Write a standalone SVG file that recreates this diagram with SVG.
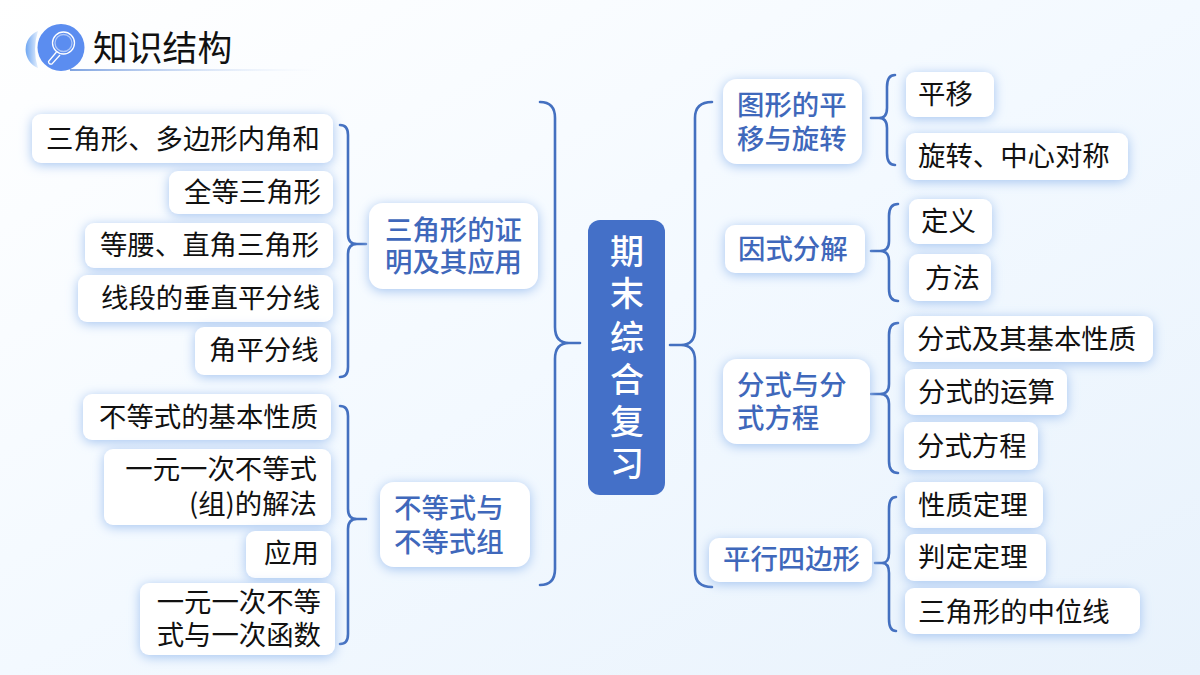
<svg xmlns="http://www.w3.org/2000/svg" width="1200" height="675" viewBox="0 0 1200 675">
<defs>
<linearGradient id="bg" x1="0" y1="0" x2="1" y2="1"><stop offset="0" stop-color="#ffffff"/><stop offset="0.5" stop-color="#f3f9ff"/><stop offset="1" stop-color="#e8f2fc"/></linearGradient>
<linearGradient id="ul" x1="0" y1="0" x2="1" y2="0"><stop offset="0" stop-color="#7fa3e0"/><stop offset="1" stop-color="#dfeafa" stop-opacity="0"/></linearGradient>
<linearGradient id="cres" x1="0" y1="0" x2="1" y2="0"><stop offset="0" stop-color="#6ea6f2"/><stop offset="1" stop-color="#e4effd"/></linearGradient>
<filter id="sh" x="-30%" y="-40%" width="160%" height="180%"><feDropShadow dx="0" dy="2" stdDeviation="6" flood-color="#a4c4f0" flood-opacity="1"/></filter>
</defs>
<style>
text{font-family:"Noto Sans CJK SC","Noto Sans",sans-serif}
.box{fill:#fff;filter:url(#sh)}
.leaf{font-size:27.4px;fill:#111}
.mid{font-size:27.4px;fill:#3f68bb;font-weight:500}
.c{fill:none;stroke:#4470c0;stroke-width:2.6;stroke-linecap:round;stroke-linejoin:round}
</style>
<rect width="1200" height="675" fill="url(#bg)"/>
<g id="title">
<path d="M38 31A20 20 0 0 0 38 68A60 60 0 0 1 38 31Z" fill="url(#cres)"/>
<rect x="70" y="69" width="250" height="2" fill="url(#ul)"/>
<circle cx="61" cy="47.500" r="23.500" fill="#5b8df0"/>
<g fill="none" stroke="#fff" stroke-width="1.300"><circle cx="63.500" cy="43" r="11"/><circle cx="63.500" cy="43" r="8.500" stroke-opacity="0.500"/><path d="M56.500 52L48.500 61.500Q48.500 64.500 52 64L60 55"/></g>
<text x="93" y="61" font-size="34.800" fill="#111">知识结构</text>
</g>
<g id="connectors">
<path class="c" d="M540 102Q555 102 555 118V327Q555 343 569 343H580H569Q555 343 555 359V569Q555 585 540 585"/>
<path class="c" d="M712 102Q695 102 695 118V329Q695 345 681 345H670H681Q695 345 695 361V571Q695 587 712 587"/>
<path class="c" d="M340 125Q348 125 348 135V234Q348 244 357 244H366H357Q348 244 348 254V367Q348 377 340 377"/>
<path class="c" d="M340 406Q348 406 348 416V509Q348 519 357 519H366H357Q348 519 348 529V634Q348 644 340 644"/>
<path class="c" d="M895 75Q887 75 887 87V108Q887 118 879 118H871H879Q887 118 887 128V153Q887 165 895 165"/>
<path class="c" d="M898 204Q889 204 889 216V241Q889 251 880 251H871H880Q889 251 889 261V289Q889 301 898 301"/>
<path class="c" d="M898 323Q889 323 889 335V384Q889 394 880 394H871H880Q889 394 889 404V461Q889 473 898 473"/>
<path class="c" d="M896 497Q889 497 889 509V553Q889 563 882 563H875H882Q889 563 889 573V619Q889 631 896 631"/>
</g>
<g id="center"><rect x="588" y="220" width="77" height="275" rx="12" fill="#4470c8"/>
<g font-size="34" font-weight="500" fill="#fff" text-anchor="middle"><text x="627" y="264">期</text><text x="627" y="306">末</text><text x="627" y="350">综</text><text x="627" y="392">合</text><text x="627" y="434">复</text><text x="627" y="476">习</text></g></g>
<g id="m1"><rect class="box" x="369" y="203" width="169" height="86" rx="14"/><text class="mid" x="385" y="240">三角形的证</text><text class="mid" x="385" y="272">明及其应用</text></g>
<g id="m2"><rect class="box" x="380" y="482" width="150" height="85" rx="14"/><text class="mid" x="394" y="518">不等式与</text><text class="mid" x="394" y="552">不等式组</text></g>
<g id="r1"><rect class="box" x="723" y="79" width="139" height="85" rx="14"/><text class="mid" x="737" y="115">图形的平</text><text class="mid" x="737" y="149">移与旋转</text></g>
<g id="r2"><rect class="box" x="725" y="225" width="140" height="48" rx="10"/><text class="mid" x="738" y="259">因式分解</text></g>
<g id="r3"><rect class="box" x="723" y="359" width="147" height="85" rx="14"/><text class="mid" x="737" y="395">分式与分</text><text class="mid" x="737" y="428">式方程</text></g>
<g id="r4"><rect class="box" x="709" y="538" width="163" height="44" rx="10"/><text class="mid" x="723" y="569">平行四边形</text></g>
<g id="l1"><rect class="box" x="32" y="114" width="301" height="49" rx="9"/><text class="leaf" x="46" y="149">三角形、多边形内角和</text></g>
<g id="l2"><rect class="box" x="169" y="171" width="164" height="43" rx="9"/><text class="leaf" x="184" y="202">全等三角形</text></g>
<g id="l3"><rect class="box" x="85" y="223" width="248" height="45" rx="9"/><text class="leaf" x="100" y="255">等腰、直角三角形</text></g>
<g id="l4"><rect class="box" x="78" y="275" width="255" height="47" rx="9"/><text class="leaf" x="101" y="308">线段的垂直平分线</text></g>
<g id="l5"><rect class="box" x="195" y="327" width="136" height="48" rx="9"/><text class="leaf" x="209" y="360">角平分线</text></g>
<g id="l6"><rect class="box" x="83" y="394" width="248" height="46" rx="9"/><text class="leaf" x="99" y="427">不等式的基本性质</text></g>
<g id="l7"><rect class="box" x="104" y="449" width="227" height="76" rx="9"/><text class="leaf" x="317" y="479" text-anchor="end">一元一次不等式</text><text class="leaf" x="317" y="514" text-anchor="end">(组)的解法</text></g>
<g id="l8"><rect class="box" x="246" y="531" width="85" height="47" rx="9"/><text class="leaf" x="264" y="563">应用</text></g>
<g id="l9"><rect class="box" x="140" y="583" width="195" height="72" rx="9"/><text class="leaf" x="321" y="612" text-anchor="end">一元一次不等</text><text class="leaf" x="321" y="645" text-anchor="end">式与一次函数</text></g>
<g id="t1"><rect class="box" x="906" y="72" width="88" height="45" rx="9"/><text class="leaf" x="918" y="104">平移</text></g>
<g id="t2"><rect class="box" x="906" y="133" width="222" height="47" rx="9"/><text class="leaf" x="918" y="166">旋转、中心对称</text></g>
<g id="t3"><rect class="box" x="909" y="199" width="83" height="45" rx="9"/><text class="leaf" x="921" y="231">定义</text></g>
<g id="t4"><rect class="box" x="909" y="254" width="82" height="47" rx="9"/><text class="leaf" x="925" y="288">方法</text></g>
<g id="t5"><rect class="box" x="904" y="316" width="249" height="46" rx="9"/><text class="leaf" x="917" y="349">分式及其基本性质</text></g>
<g id="t6"><rect class="box" x="905" y="369" width="162" height="46" rx="9"/><text class="leaf" x="918" y="402">分式的运算</text></g>
<g id="t7"><rect class="box" x="904" y="422" width="134" height="48" rx="9"/><text class="leaf" x="917" y="456">分式方程</text></g>
<g id="t8"><rect class="box" x="905" y="482" width="138" height="46" rx="9"/><text class="leaf" x="918" y="515">性质定理</text></g>
<g id="t9"><rect class="box" x="905" y="534" width="141" height="47" rx="9"/><text class="leaf" x="918" y="567">判定定理</text></g>
<g id="t10"><rect class="box" x="905" y="588" width="235" height="46" rx="9"/><text class="leaf" x="918" y="622">三角形的中位线</text></g>
</svg>
